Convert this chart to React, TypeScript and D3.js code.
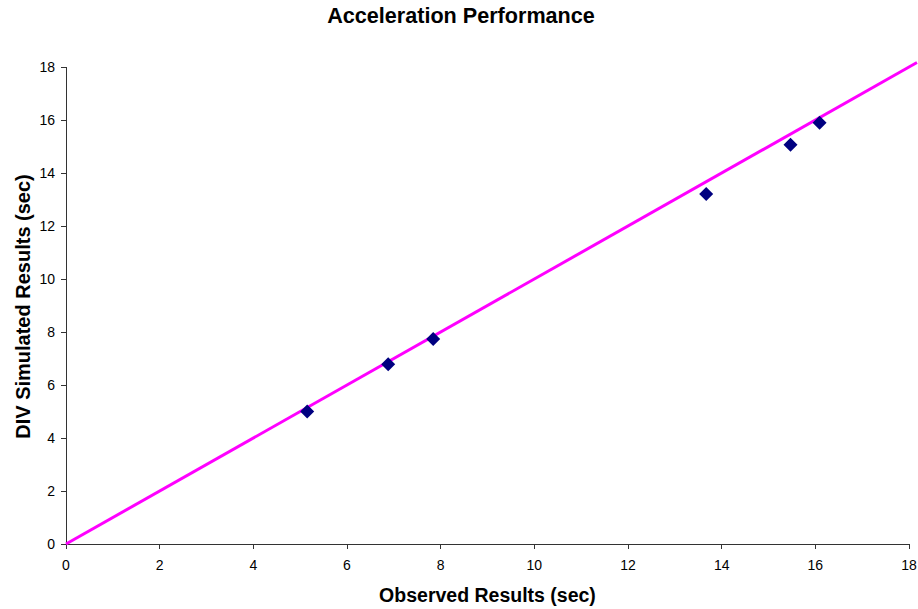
import React from "react";
import * as d3 from "d3";

const observed = [5.15, 6.88, 7.84, 13.67, 15.47, 16.09];
const simulated = [5.0, 6.78, 7.74, 13.21, 15.07, 15.9];
const lineX = [0, 18.17];
const lineY = [0, 18.17];
const xTicks = [0, 2, 4, 6, 8, 10, 12, 14, 16, 18];
const yTicks = [0, 2, 4, 6, 8, 10, 12, 14, 16, 18];

const W = 918;
const H = 609;
const FONT = "'Liberation Sans', Arial, sans-serif";

export default function App() {
  const x = d3.scaleLinear().domain([0, 18]).range([66, 909]);
  const y = d3.scaleLinear().domain([0, 18]).range([544, 67]);
  const linePath = d3
    .line<number>()
    .x((d) => x(d))
    .y((_, i) => y(lineY[i]))(lineX) as string;
  const s = 7;
  const diamond = `M0,${-s}L${s},0L0,${s}L${-s},0Z`;

  return (
    <svg
      width={W}
      height={H}
      style={{ position: "absolute", left: 0, top: 0, background: "#fff" }}
      fontFamily={FONT}
    >
      <rect x={0} y={0} width={W} height={H} fill="#fff" />
      <text x={461} y={23} textAnchor="middle" fontSize={21.6} fontWeight="bold" fill="#000">
        Acceleration Performance
      </text>
      <line x1={x(0)} x2={x(0)} y1={y(18)} y2={y(0)} stroke="#333" strokeWidth={1} shapeRendering="crispEdges" />
      <line x1={x(0)} x2={x(18)} y1={y(0)} y2={y(0)} stroke="#333" strokeWidth={1} shapeRendering="crispEdges" />
      {yTicks.map((t) => (
        <g key={"y" + t}>
          <line x1={61} x2={66} y1={y(t)} y2={y(t)} stroke="#333" shapeRendering="crispEdges" />
          <text x={55} y={y(t)} dy="0.36em" textAnchor="end" fontSize={14} fill="#000">
            {t}
          </text>
        </g>
      ))}
      {xTicks.map((t) => (
        <g key={"x" + t}>
          <line x1={x(t)} x2={x(t)} y1={544} y2={549} stroke="#333" shapeRendering="crispEdges" />
          <text x={x(t)} y={570} textAnchor="middle" fontSize={14} fill="#000">
            {t}
          </text>
        </g>
      ))}
      <text x={487.5} y={602} textAnchor="middle" fontSize={19.5} fontWeight="bold" fill="#000">
        Observed Results (sec)
      </text>
      <text
        transform="translate(30,306.5) rotate(-90)"
        textAnchor="middle"
        fontSize={20}
        fontWeight="bold"
        fill="#000"
      >
        DIV Simulated Results (sec)
      </text>
      <path d={linePath} stroke="#FF00FF" strokeWidth={3} fill="none" />
      {observed.map((o, i) => (
        <path key={i} d={diamond} transform={`translate(${x(o)},${y(simulated[i])})`} fill="#000080" />
      ))}
    </svg>
  );
}
